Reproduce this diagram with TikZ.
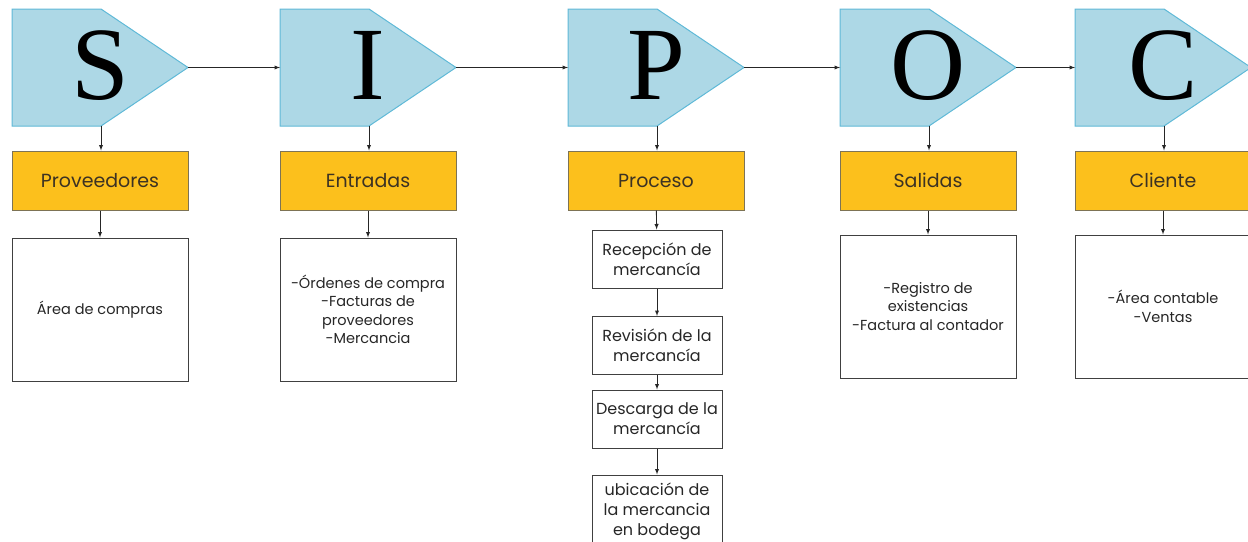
\documentclass[tikz,border=0pt]{standalone}
\usepackage{fontspec}
\setmainfont{Poppins}
\newfontfamily\letrafont{Liberation Serif}
\usetikzlibrary{positioning}

\definecolor{celeste}{RGB}{173,216,230}
\definecolor{bordeceleste}{RGB}{95,185,215}
\definecolor{ambar}{RGB}{252,192,28}
\definecolor{bordeambar}{RGB}{125,115,85}
\definecolor{textoambar}{RGB}{60,50,35}

\tikzset{
	letra/.pic = {
		\draw [fill=celeste, draw=bordeceleste, line width=1pt] (0, 0) -- (89, 0) --
		      (176, 58.5) -- (89, 117) -- (0, 117) -- cycle;
		\node [anchor=base, inner sep=0pt, font=\letrafont\fontsize{104}{104}\selectfont] (-txt) at (88, 90) {#1};
		\coordinate (-tip) at (176, 58.5);
		\coordinate (-bot) at (89, 117);
		\coordinate (-left) at (0, 58.5);
	},
	etapa/.style = {draw=bordeambar, fill=ambar, line width=1pt, minimum width=176pt,
		minimum height=59pt, text=textoambar, font=\fontsize{19}{22}\selectfont},
	caja/.style = {draw=black!75, line width=1pt, minimum width=176pt, minimum height=143pt,
		align=center, text=black!85, font=\fontsize{14.5}{18.5}\selectfont},
	paso/.style = {draw=black!75, line width=1pt, minimum width=130pt, minimum height=58pt,
		align=center, inner sep=0pt, text=black!85, font=\fontsize{16}{20}\selectfont},
	flecha/.style = {-latex, line width=0.9pt, black!85}
}

\begin{document}
\begin{tikzpicture}[x=1pt, y=-1pt]
		\useasboundingbox (0, 0) rectangle (1248, 541);
		\pic (s) at (12, 9) {letra=S};
		\pic (i) at (280, 9) {letra=I};
		\pic (p) at (568, 9) {letra=P};
		\pic (o) at (840, 9) {letra=O};
		\pic (c) at (1075, 9) {letra=C};
		\draw [flecha] (s-tip) -- (i-left);
		\draw [flecha] (i-tip) -- (p-left);
		\draw [flecha] (p-tip) -- (o-left);
		\draw [flecha] (o-tip) -- (c-left);
		\node [etapa] (prov) at (100, 180.5) {Proveedores};
		\node [etapa] (ent) at (368, 180.5) {Entradas};
		\node [etapa] (proc) at (656, 180.5) {Proceso};
		\node [etapa] (sal) at (928, 180.5) {Salidas};
		\node [etapa] (cli) at (1163, 180.5) {Cliente};
		\foreach \l/\e in {s/prov, i/ent, p/proc, o/sal, c/cli}
			\draw [flecha] (\l-bot) -- (\l-bot |- \e.north);
		\node [caja, below=27pt of prov] (cprov) {Área de compras};
		\node [caja, below=27pt of ent] (cent) {-Órdenes de compra\\-Facturas de\\proveedores\\-Mercancia};
		\node [caja, below=24pt of sal] (csal) {-Registro de\\existencias\\-Factura al contador};
		\node [caja, below=24pt of cli] (ccli) {-Área contable\\-Ventas};
		\draw [flecha] (prov) -- (cprov);
		\draw [flecha] (ent) -- (cent);
		\draw [flecha] (sal) -- (csal);
		\draw [flecha] (cli) -- (ccli);
		\node [paso] (recep) at (657, 259) {Recepción de\\mercancía};
		\node [paso] (revis) at (657, 345.5) {Revisión de la\\mercancía};
		\node [paso] (desc) at (657, 419) {Descarga de la\\mercancía};
		\node [paso, minimum height=72pt] (ubic) at (657, 511) {ubicación de\\la mercancia\\en bodega};
		\draw [flecha] (proc) -- (recep);
		\draw [flecha] (recep) -- (revis);
		\draw [flecha] (revis) -- (desc);
		\draw [flecha] (desc) -- (ubic);
	\end{tikzpicture}
\end{document}
